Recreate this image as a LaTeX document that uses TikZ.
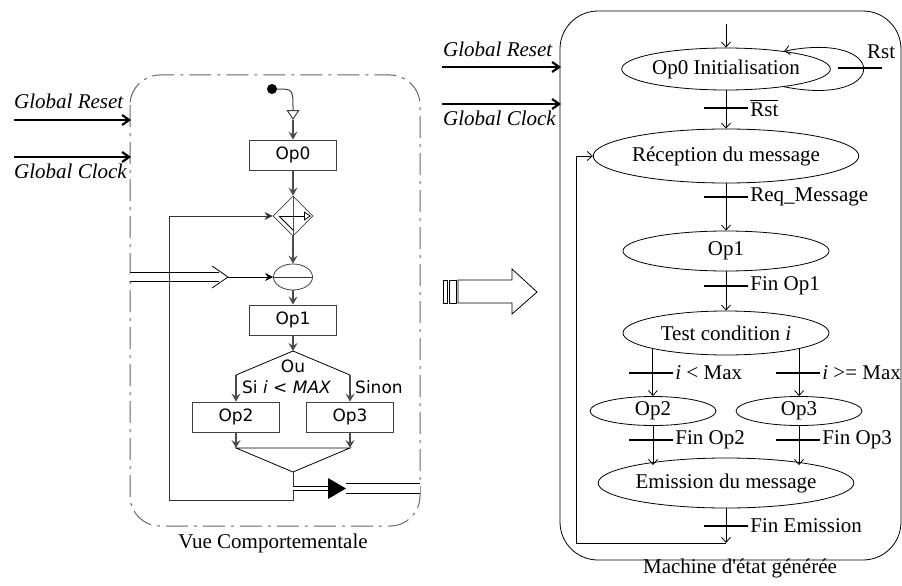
\documentclass[tikz,border=0pt]{standalone}
\usepackage{fontspec}
\setmainfont{Liberation Serif}
\newfontfamily\verd{DejaVu Sans}
\usepackage{amsmath}
\usetikzlibrary{arrows.meta,positioning,shapes.geometric}

\begin{document}
\begin{tikzpicture}[x=1pt,y=-1pt,
  font=\fontsize{21}{25}\selectfont,
  every node/.style={inner sep=2pt},
  sig/.style={line width=2.2pt,-{Straight Barb[length=7pt,width=10pt]}},
  flow/.style={black!70,line width=1.3pt,-{Stealth[length=8pt,width=9pt,inset=3pt]}},
  opbox/.style={draw=black!75,line width=0.8pt,minimum width=87pt,minimum height=30pt,inner sep=0pt,font=\verd\fontsize{17}{20}\selectfont},
  sans/.style={font=\verd\fontsize{17}{20}\selectfont},
  state/.style={draw,ellipse,line width=0.8pt,minimum width=206pt,inner sep=0pt},
  tr/.style={line width=0.8pt,-{Straight Barb[length=5pt,width=9pt]}},
  bar/.style={fill=black,minimum width=44pt,minimum height=2.6pt,inner sep=0pt}]
  \useasboundingbox (0,0) rectangle (902,586);
  \draw[black!60,line width=1pt,rounded corners=30pt,dash pattern=on 22pt off 6pt on 3pt off 6pt] (130,75) rectangle (420,526);
  \node[anchor=base west] (gr1) at (12,108) {\textit{Global Reset}};
  \node[anchor=base west] (gc1) at (12,178) {\textit{Global Clock}};
  \coordinate (rst1) at (131,120);
  \coordinate (clk1) at (131,157);
  \draw[sig] (14,120) -- (rst1);
  \draw[sig] (14,157) -- (clk1);
  \node[circle,fill,minimum size=10pt,inner sep=0pt] (start) at (272,89) {};
  \coordinate (init) at (293,120);
  \draw[black!75,line width=1pt,-{Triangle[open,length=10pt,width=13pt]}] (start.east) .. controls (293,89) .. (init);
  \node[opbox] (op0) at (293,155) {Op0};
  \draw[flow] (init) -- (op0);
  \node[diamond,draw=black!75,line width=0.8pt,minimum width=40pt,minimum height=40pt,inner sep=0pt] (loopd) at (293,216) {};
  \draw[flow] (op0) -- (loopd);
  \draw[black!70,line width=1pt] (loopd.north) -- (loopd.south);
  \draw[line width=0.8pt,-{Triangle[open,length=7pt,width=9pt]}] ([xshift=-14pt]loopd.center) -- ([xshift=18pt]loopd.center);
  \draw[line width=0.8pt] ([xshift=-14pt]loopd.center) -- ([yshift=-14pt]loopd.center);
  \node[ellipse,draw=black!75,line width=0.8pt,minimum width=39pt,minimum height=26pt,inner sep=0pt] (join) at (293,277) {};
  \draw[black!80,line width=0.8pt] (join.west) -- (join.east);
  \draw[flow] (loopd) -- (join);
  \coordinate (ext) at (130,277);
  \coordinate (chev) at (228,277);
  \draw[line width=0.8pt,double distance=8pt] (ext) -- (219,277);
  \draw[line width=0.8pt] (212,266) -- (chev) -- (212,288);
  \draw[line width=0.8pt,-{Stealth[length=8pt,width=8pt]}] (chev) -- (join);
  \node[opbox] (op1) at (293,320) {Op1};
  \draw[flow] (join) -- (op1);
  \coordinate (ch) at (293,351);
  \coordinate (chl) at (236,375);
  \coordinate (chr) at (350,375);
  \draw[flow] (op1) -- (ch);
  \draw[line width=0.8pt] (chl) -- (ch) -- (chr);
  \node[sans] (ou) at (293,366) {Ou};
  \node[opbox] (op2) at (236,417) {Op2};
  \node[opbox] (op3) at (350,417) {Op3};
  \draw[flow] (chl) -- (op2);
  \draw[flow] (chr) -- (op3);
  \node[sans,anchor=west] (si) at (240,387) {Si \textit{i} < \textit{MAX}};
  \node[sans,anchor=west] (sinon) at (353,387) {Sinon};
  \coordinate (ml) at (236,448);
  \coordinate (mr) at (350,448);
  \coordinate (mrg) at (293,472);
  \draw[flow] (op2) -- (ml);
  \draw[flow] (op3) -- (mr);
  \draw[line width=0.8pt] (ml) -- (mr) -- (mrg) -- cycle;
  \draw[black!80,line width=0.9pt,-{Stealth[length=8pt,width=8pt]}] (mrg) -- ++(0,28) -| (169,216) -- (loopd.west);
  \coordinate (out) at (293,488.5);
  \draw[line width=0.8pt,double distance=3pt] (out) -- (329,488.5);
  \fill (328,478) -- (346,488.5) -- (328,499) -- cycle;
  \draw[line width=0.8pt,double distance=9pt] (346,488.5) -- (420,488.5);
  \node (vue) at (273,543) {Vue Comportementale};
  \draw[line width=0.8pt] (443,280) rectangle (447,303);
  \draw[line width=0.8pt] (449,280) rectangle (456,303);
  \draw[line width=0.8pt] (458,280) -- (512,280) -- (512,269) -- (537,292) -- (512,314) -- (512,303) -- (458,303) -- cycle;
  \draw[line width=0.8pt,rounded corners=38pt] (560,11) rectangle (901,560);
  \node[anchor=base west] (gr2) at (441,57) {\textit{Global Reset}};
  \node[anchor=base west] (gc2) at (441,125) {\textit{Global Clock}};
  \coordinate (rst2) at (561,67);
  \coordinate (clk2) at (561,104);
  \draw[sig] (442,67) -- (rst2);
  \draw[sig] (442,104) -- (clk2);
  \node[state,minimum height=42pt] (s0) at (726,69) {Op0 Initialisation};
  \node[state,minimum height=54pt] (s1) at (726,156) {Réception du message};
  \node[state,minimum height=40pt] (s2) at (726,251) {Op1};
  \node[state,minimum height=44pt] (s3) at (726,333) {Test condition \textit{i}};
  \node[state,minimum width=126pt,minimum height=29pt] (s4) at (653,411) {Op2};
  \node[state,minimum width=126pt,minimum height=29pt] (s5) at (799,411) {Op3};
  \node[state,minimum height=50pt] (s6) at (726,483) {Emission du message};
  \coordinate (entry) at (726,24);
  \coordinate (ret) at (726,543);
  \draw[tr] (entry) -- (s0);
  \draw[tr] (s0.-17) .. controls (890,108) and (890,30) .. (s0.17);
  \draw[tr] (s0) -- (s1);
  \draw[tr] (s1) -- (s2);
  \draw[tr] (s2) -- (s3);
  \draw[tr] (s3.south west) -- (s3.south west |- s4.north);
  \draw[tr] (s3.south east) -- (s3.south east |- s5.north);
  \draw[tr] (s4) -- (s4 |- s6.north west);
  \draw[tr] (s5) -- (s5 |- s6.north east);
  \draw[tr] (s6) -- (ret);
  \draw[tr] (ret) -- (576,543) |- (s1.west);
  \node[bar] (t0) at (860,68) {};
  \node[anchor=base west] (l0) at (865,59) {Rst};
  \node[bar] (t1) at (726,108) {};
  \node[right=0pt of t1] (l1) {$\overline{\text{Rst}}$};
  \node[bar] (t2) at (726,197) {};
  \node[right=0pt of t2] (l2) {Req\_Message};
  \node[bar] (t3) at (726,286) {};
  \node[right=0pt of t3] (l3) {Fin Op1};
  \node[bar] (t4) at (651,373) {};
  \node[right=0pt of t4] (l4) {\textit{i} < Max};
  \node[bar] (t5) at (798,373) {};
  \node[right=0pt of t5] (l5) {\textit{i} >= Max};
  \node[bar] (t6) at (651,440) {};
  \node[right=0pt of t6] (l6) {Fin Op2};
  \node[bar] (t7) at (798,440) {};
  \node[right=0pt of t7] (l7) {Fin Op3};
  \node[bar] (t8) at (726,526) {};
  \node[right=0pt of t8] (l8) {Fin Emission};
  \node (mach) at (740,568) {Machine d\textquotesingle état générée};
\end{tikzpicture}
\end{document}
